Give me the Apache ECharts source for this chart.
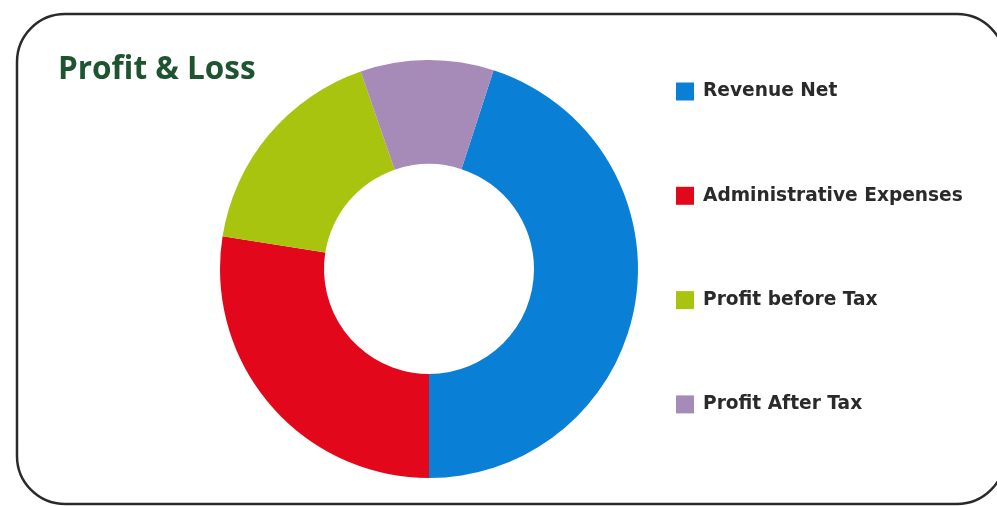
<!DOCTYPE html>
<html>
<head>
<meta charset="utf-8">
<script src="https://cdn.jsdelivr.net/npm/echarts@6/dist/echarts.min.js"></script>
<style>html,body{margin:0;padding:0;background:#fff;}#c{width:997px;height:506px;}</style>
</head>
<body>
<div id="c"></div>
<script>
const categories = ['Revenue Net', 'Administrative Expenses', 'Profit before Tax', 'Profit After Tax'];
const values = [45, 27.5, 17.2, 10.3];
const colors = ['#0a7fd6', '#e2071a', '#a9c40f', '#a68bb9'];

const chart = echarts.init(document.getElementById('c'));
chart.setOption({
  backgroundColor: '#ffffff',
  animation: false,
  graphic: [{
    type: 'rect', z: -1,
    shape: { x: 17, y: 14, width: 988, height: 490, r: 48 },
    style: { fill: '#ffffff', stroke: '#2a2a2a', lineWidth: 2.5 }
  }],
  title: {
    text: 'Profit & Loss',
    left: 53, top: 49,
    textStyle: { fontFamily: 'Open Sans', fontWeight: 'bold', fontSize: 31.5, color: '#1e5530' }
  },
  legend: {
    orient: 'vertical',
    left: 676, top: 82,
    padding: 0,
    itemWidth: 18, itemHeight: 18, itemGap: 85.3,
    icon: 'rect',
    textStyle: { fontFamily: 'DejaVu Sans', fontWeight: 'bold', fontSize: 18.6, lineHeight: 18, color: '#2a2a2a', padding: [0, 0, 0, 4] },
    data: categories
  },
  series: [{
    type: 'pie',
    center: [429, 269],
    radius: [105, 209],
    startAngle: 72,
    clockwise: true,
    label: { show: false },
    labelLine: { show: false },
    itemStyle: { borderWidth: 0 },
    data: categories.map((n, i) => ({ name: n, value: values[i], itemStyle: { color: colors[i] } }))
  }]
});
</script>
</body>
</html>
